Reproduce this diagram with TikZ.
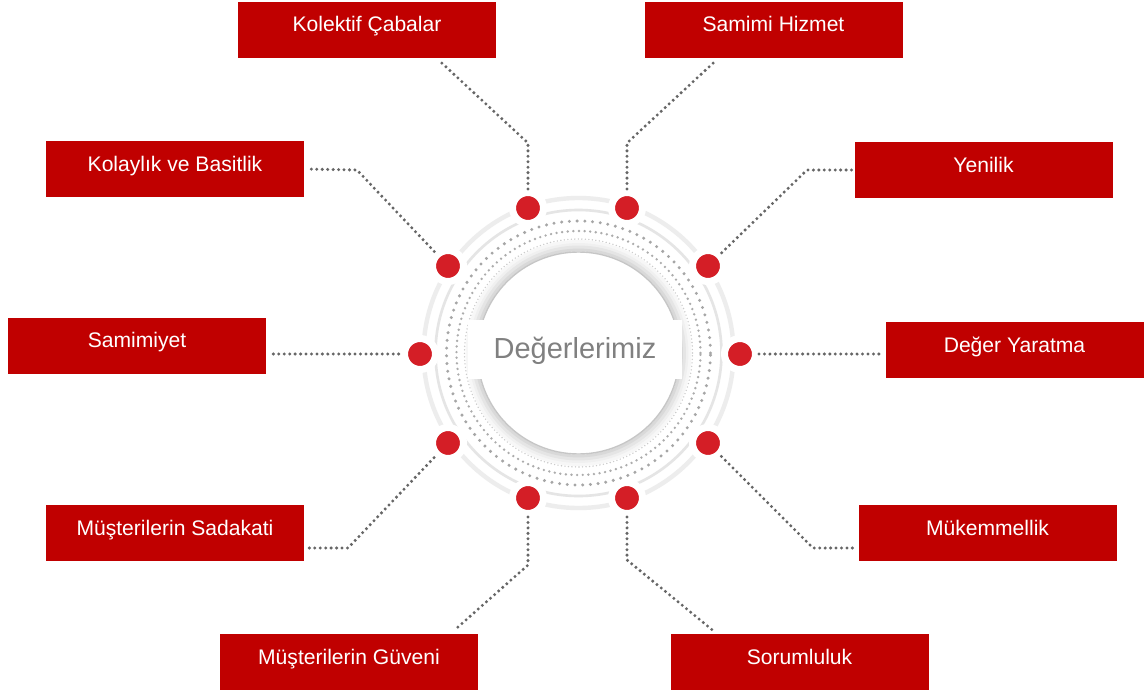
\documentclass[tikz,border=0pt]{standalone}
\usepackage{fontspec}
\setmainfont{Liberation Sans}
\usepackage{tikz}
\usetikzlibrary{calc}
\definecolor{ValueRed}{HTML}{C00000}
\definecolor{DotRed}{HTML}{D41E26}
\definecolor{LinkGray}{HTML}{666666}
\definecolor{TitleGray}{HTML}{808080}

\tikzset{
  valbox/.style={fill=ValueRed,text=white,minimum width=5.16cm,minimum height=1.12cm,
    inner sep=0pt,text height=0.60cm,text depth=0.52cm,font=\fontsize{12}{14}\selectfont},
  reddot/.style={circle,fill=DotRed,draw=white,line width=4pt,minimum size=0.62cm,inner sep=0pt},
  link/.style={LinkGray,line width=1.9pt,line cap=round,dash pattern=on 0pt off 3.1pt},
}

\begin{document}
\begin{tikzpicture}
  \fill[white] (0,0) rectangle (22.92,13.9);
  \coordinate (c) at (11.57,6.84);
  \draw[gray!14,line width=2.5pt] (c) circle (3.10);
  \draw[gray!20,line width=1.5pt] (c) circle (2.86);
  \draw[gray!70,line width=1.9pt,line cap=round,dash pattern=on 0pt off 4.4pt] (c) circle (2.64);
  \draw[gray!65,line width=1.5pt,line cap=round,dash pattern=on 0pt off 3.2pt] (c) circle (2.44);
  \draw[gray!40,line width=0.9pt,line cap=round,dash pattern=on 0pt off 2pt] (c) circle (2.28);
  \draw[gray!6,line width=2.2pt] (c) circle (2.22);
  \draw[gray!12,line width=2.2pt] (c) circle (2.16);
  \draw[gray!20,line width=2.2pt] (c) circle (2.11);
  \draw[gray!30,line width=1.6pt] (c) circle (2.06);
  \draw[gray!45,line width=0.8pt] (c) circle (2.02);
  \node[fill=white,minimum width=4.28cm,minimum height=1.18cm,inner sep=0pt,text height=0.76cm,
    text depth=0.42cm,text=TitleGray,font=\fontsize{16.5}{19}\selectfont] (title) at (11.50,6.91) {Değerlerimiz};

  \node[reddot] (d1) at (10.56,9.74) {};
  \node[reddot] (d2) at (12.54,9.74) {};
  \node[reddot] (d3) at (8.96,8.58) {};
  \node[reddot] (d4) at (14.16,8.58) {};
  \node[reddot] (d5) at (8.40,6.82) {};
  \node[reddot] (d6) at (14.80,6.82) {};
  \node[reddot] (d7) at (8.96,5.04) {};
  \node[reddot] (d8) at (14.16,5.04) {};
  \node[reddot] (d9) at (10.56,3.94) {};
  \node[reddot] (d10) at (12.54,3.94) {};

  \node[valbox] (kolektif) at (7.34,13.30) {Kolektif Çabalar};
  \node[valbox] (samimi) at (15.47,13.30) {Samimi Hizmet};
  \node[valbox] (kolaylik) at (3.50,10.52) {Kolaylık ve Basitlik};
  \node[valbox] (yenilik) at (19.67,10.50) {Yenilik};
  \node[valbox] (samimiyet) at (2.74,6.99) {Samimiyet};
  \node[valbox] (deger) at (20.29,6.90) {Değer Yaratma};
  \node[valbox] (sadakati) at (3.50,3.24) {Müşterilerin Sadakati};
  \node[valbox] (mukemmel) at (19.75,3.24) {Mükemmellik};
  \node[valbox] (guveni) at (6.98,0.66) {Müşterilerin Güveni};
  \node[valbox] (sorumluluk) at (15.99,0.66) {Sorumluluk};

  \draw[link] (d1) -- (10.56,11.04) -- ($(kolektif.south)+(1.46,-0.06)$);
  \draw[link] (d2) -- (12.54,11.04) -- ($(samimi.south)+(-1.17,-0.06)$);
  \draw[link,shorten <=0.14cm] (kolaylik.east) -- (7.14,10.50) -- (d3);
  \draw[link,shorten >=0.05cm] (d4) -- (16.14,10.50) -- (yenilik.west);
  \draw[link,shorten <=0.14cm] (samimiyet.east |- d5) -- (d5);
  \draw[link,shorten >=0.05cm] (d6) -- (deger.west |- d6);
  \draw[link,shorten <=0.1cm] ($(sadakati.east)+(0,-0.30)$) -- (6.96,2.94) -- (d7);
  \draw[link,shorten >=0.05cm] (d8) -- (16.26,2.94) -- ($(mukemmel.west)+(0,-0.30)$);
  \draw[link] (d9) -- (10.56,2.60) -- ($(guveni.north)+(2.12,0.08)$);
  \draw[link] (d10) -- (12.54,2.70) -- ($(sorumluluk.north)+(-1.75,0.08)$);
\end{tikzpicture}
\end{document}
